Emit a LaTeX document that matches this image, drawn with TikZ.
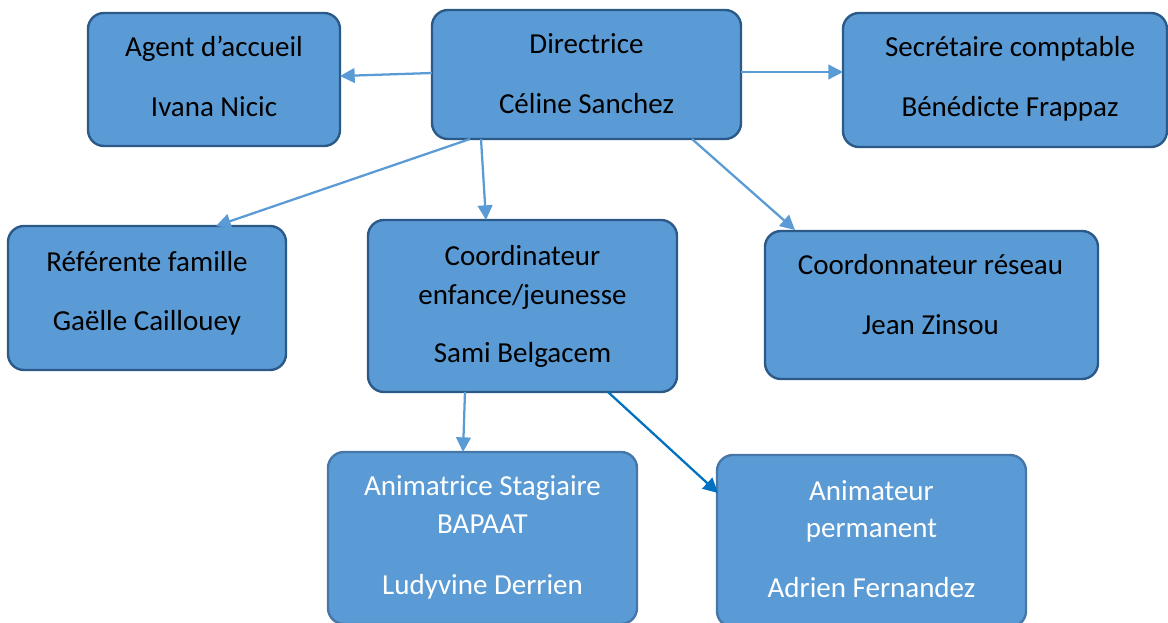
\documentclass[tikz,border=0pt]{standalone}
\usepackage{fontspec}
\setmainfont{Carlito}
\usetikzlibrary{arrows.meta,calc}
\definecolor{boxfill}{HTML}{5B9BD5}
\definecolor{boxline}{HTML}{2C5A88}
\definecolor{boxlinelight}{HTML}{4677A8}
\definecolor{arrcol}{HTML}{5B9BD5}
\definecolor{arrdark}{HTML}{0070C0}
\tikzset{
  orgbox/.style={draw=boxline, fill=boxfill, line width=1.8pt, rounded corners=12pt, inner sep=0pt, outer sep=0pt},
  orgboxlight/.style={orgbox, draw=boxlinelight},
  lbl/.style={anchor=base, inner sep=0pt, font=\fontsize{21.75pt}{26pt}\selectfont, text=black},
  lblw/.style={lbl, text=white},
  conn/.style={draw=arrcol, line width=1.7pt, -{Triangle[length=11pt,width=11pt]}},
  conndark/.style={conn, draw=arrdark}
}
\begin{document}
\begin{tikzpicture}[x=0.75pt,y=-0.75pt]
\useasboundingbox (0,0) rectangle (1168,622);
\clip (0,0) rectangle (1168,622);
% boxes
\node[orgbox, minimum width=252*0.75pt, minimum height=133*0.75pt] (agent) at (214,79.5) {};
\node[orgbox, minimum width=309*0.75pt, minimum height=129*0.75pt] (dir) at (586.5,74.5) {};
\node[orgbox, minimum width=324*0.75pt, minimum height=134*0.75pt] (sec) at (1005,80) {};
\node[orgbox, minimum width=278*0.75pt, minimum height=144*0.75pt] (ref) at (147,298) {};
\node[orgbox, minimum width=309*0.75pt, minimum height=172*0.75pt] (coord) at (522.5,306) {};
\node[orgbox, minimum width=333*0.75pt, minimum height=148*0.75pt] (res) at (931.5,305) {};
\node[orgboxlight, minimum width=309*0.75pt, minimum height=172*0.75pt] (animf) at (482.5,538) {};
\node[orgboxlight, minimum width=309*0.75pt, minimum height=172*0.75pt] (animh) at (871.5,541) {};
% texts
\node[lbl] (agentA) at (214,56) {Agent d’accueil};
\node[lbl] (agentB) at (214,116) {Ivana Nicic};
\node[lbl] (dirA) at (586.5,53) {Directrice};
\node[lbl] (dirB) at (586.5,113) {Céline Sanchez};
\node[lbl] (secA) at (1010,56) {Secrétaire comptable};
\node[lbl] (secB) at (1010,116) {Bénédicte Frappaz};
\node[lbl] (refA) at (147,271) {Référente famille};
\node[lbl] (refB) at (147,330) {Gaëlle Caillouey};
\node[lbl] (coordA) at (522.5,265) {Coordinateur};
\node[lbl] (coordB) at (522.5,304) {enfance/jeunesse};
\node[lbl] (coordC) at (522.5,362) {Sami Belgacem};
\node[lbl] (resA) at (930.5,274) {Coordonnateur réseau};
\node[lbl] (resB) at (930.5,334) {Jean Zinsou};
\node[lblw] (animfA) at (482.5,495) {Animatrice Stagiaire};
\node[lblw] (animfB) at (482.5,533) {BAPAAT};
\node[lblw] (animfC) at (482.5,594) {Ludyvine Derrien};
\node[lblw] (animhA) at (871.5,500) {Animateur};
\node[lblw] (animhB) at (871.5,537) {permanent};
\node[lblw] (animhC) at (871.5,597) {Adrien Fernandez};
% connectors
\draw[conn] ($(dir.west)+(0,-1.5)$) -- ($(agent.east)+(0,-3.5)$);
\draw[conn] ($(dir.east)+(0,-2.5)$) -- ($(sec.west)+(0,-8)$);
\draw[conn] ($(dir.south west)+(38,0)$) -- ($(ref.north west)+(208,0)$);
\draw[conn] ($(dir.south west)+(49,0)$) -- ($(coord.north west)+(118,0)$);
\draw[conn] ($(dir.south west)+(260,0)$) -- ($(res.north west)+(30,-1)$);
\draw[conn] ($(coord.south west)+(97,0)$) -- ($(animf.north west)+(135,0)$);
\draw[conndark] ($(coord.south west)+(240,0)$) -- ($(animh.north west)+(1,38)$);
\end{tikzpicture}
\end{document}
